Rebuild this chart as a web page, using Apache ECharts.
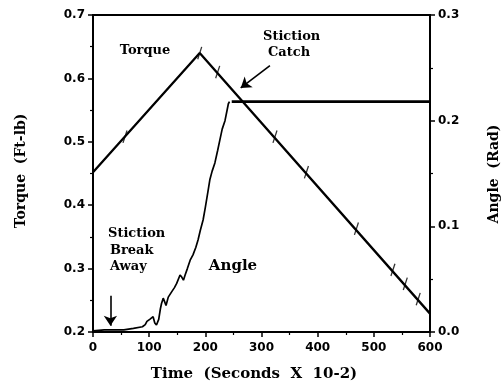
<!DOCTYPE html>
<html>
<head>
<meta charset="utf-8">
<script src="https://cdn.jsdelivr.net/npm/echarts@6/dist/echarts.min.js"></script>
<style>
html,body{margin:0;padding:0;background:#fff;}
#chart{width:501px;height:385px;}
</style>
</head>
<body>
<div id="chart"></div>
<script>
// ---- data ----
const torqueTime  = [0, 190, 600];
const torqueValue = [0.452, 0.640, 0.229];

const angleTime  = [0, 20, 40, 55, 72, 88, 93, 96, 101, 107, 110, 113, 117, 120, 122, 125, 128, 130, 134, 140, 145, 149, 155, 158, 161, 164, 168, 173, 178, 183, 187, 191, 196, 200, 205, 208, 212, 217, 222, 226, 230, 235, 238, 241, 243];
const angleValue = [0.001, 0.002, 0.002, 0.002, 0.0035, 0.005, 0.007, 0.010, 0.012, 0.0145, 0.0085, 0.0066, 0.012, 0.022, 0.027, 0.032, 0.028, 0.025, 0.033, 0.038, 0.042, 0.046, 0.054, 0.052, 0.049, 0.054, 0.060, 0.068, 0.073, 0.080, 0.087, 0.096, 0.106, 0.118, 0.134, 0.144, 0.152, 0.160, 0.172, 0.182, 0.192, 0.200, 0.208, 0.216, 0.218];

const catchTime  = [247, 600];
const catchAngle = [0.218, 0.218];

// hand-drawn tick marks crossing the torque line
const slashTime   = [57, 190, 222, 324, 380, 469, 534, 556, 579];
const slashTorque = [0.508, 0.640, 0.610, 0.508, 0.452, 0.363, 0.298, 0.276, 0.252];

const xTicks = {min: 0, max: 600, interval: 100};
const torqueTicks = {min: 0.2, max: 0.7, interval: 0.1};
const angleTicks = {min: 0.0, max: 0.3, interval: 0.1};

// annotation arrows (data units)
const catchArrow = [[315, 0.620], [263, 0.585]];
const breakArrow = [[31, 0.257], [31, 0.210]];

const zip = (a, b) => a.map((v, i) => [v, b[i]]);

const tickFont = {fontFamily: 'DejaVu Sans', fontWeight: 'bold', fontSize: 12, color: '#000'};
const axisCommon = {
  axisLine: {show: true, lineStyle: {color: '#000', width: 2}},
  axisTick: {show: true, length: 5, lineStyle: {color: '#000', width: 1.5}},
  minorTick: {show: true, splitNumber: 2, length: 3, lineStyle: {color: '#000', width: 1.2}},
  splitLine: {show: false},
  minorSplitLine: {show: false}
};

const chart = echarts.init(document.getElementById('chart'), null, {renderer: 'canvas'});
const serif = '"DejaVu Serif", serif';

chart.setOption({
  animation: false,
  backgroundColor: '#fff',
  grid: {left: 93, right: 71, top: 15, bottom: 53, show: true, borderColor: '#000', borderWidth: 2, backgroundColor: 'transparent'},
  xAxis: Object.assign({
    type: 'value', min: xTicks.min, max: xTicks.max, interval: xTicks.interval,
    axisLabel: Object.assign({margin: 10}, tickFont)
  }, axisCommon),
  yAxis: [
    Object.assign({
      type: 'value', position: 'left', min: torqueTicks.min, max: torqueTicks.max, interval: torqueTicks.interval,
      axisLabel: Object.assign({margin: 8, formatter: v => v.toFixed(1)}, tickFont)
    }, axisCommon),
    Object.assign({
      type: 'value', position: 'right', min: angleTicks.min, max: angleTicks.max, interval: angleTicks.interval,
      axisLabel: Object.assign({margin: 8, formatter: v => v.toFixed(1)}, tickFont)
    }, axisCommon)
  ],
  series: [
    {
      name: 'Torque', type: 'line', yAxisIndex: 0, data: zip(torqueTime, torqueValue),
      symbol: 'none', lineStyle: {color: '#000', width: 2.3}, z: 3,
      markLine: {
        silent: true, symbol: ['none', 'arrow'], symbolSize: 10, precision: 4,
        lineStyle: {color: '#000', width: 1.6, type: 'solid'},
        label: {show: false},
        emphasis: {disabled: true},
        data: [
          [{coord: catchArrow[0]}, {coord: catchArrow[1]}],
          [{coord: breakArrow[0]}, {coord: breakArrow[1]}]
        ]
      }
    },
    {
      name: 'Angle', type: 'line', yAxisIndex: 1, data: zip(angleTime, angleValue),
      symbol: 'none', lineStyle: {color: '#000', width: 1.7}, z: 3
    },
    {
      name: 'Catch', type: 'line', yAxisIndex: 1, data: zip(catchTime, catchAngle),
      symbol: 'none', lineStyle: {color: '#000', width: 2.6}, z: 3
    },
    {
      name: 'Marks', type: 'scatter', yAxisIndex: 0, data: zip(slashTime, slashTorque),
      symbol: 'rect', symbolSize: [1.3, 13], symbolRotate: -18,
      itemStyle: {color: '#000'}, z: 4, silent: true
    }
  ],
  graphic: [
    {type: 'text', x: 145, y: 51, style: {text: 'Torque', font: 'bold 13px ' + serif, fill: '#000', textAlign: 'center', textVerticalAlign: 'middle', align: 'center', verticalAlign: 'middle'}},
    {type: 'text', x: 263, y: 37, style: {text: 'Stiction', font: 'bold 13px ' + serif, fill: '#000', textAlign: 'left', textVerticalAlign: 'middle', align: 'left', verticalAlign: 'middle'}},
    {type: 'text', x: 268, y: 53, style: {text: 'Catch', font: 'bold 13px ' + serif, fill: '#000', textAlign: 'left', textVerticalAlign: 'middle', align: 'left', verticalAlign: 'middle'}},
    {type: 'text', x: 108, y: 234, style: {text: 'Stiction', font: 'bold 13px ' + serif, fill: '#000', textAlign: 'left', textVerticalAlign: 'middle', align: 'left', verticalAlign: 'middle'}},
    {type: 'text', x: 110, y: 251, style: {text: 'Break', font: 'bold 13px ' + serif, fill: '#000', textAlign: 'left', textVerticalAlign: 'middle', align: 'left', verticalAlign: 'middle'}},
    {type: 'text', x: 110, y: 267, style: {text: 'Away', font: 'bold 13px ' + serif, fill: '#000', textAlign: 'left', textVerticalAlign: 'middle', align: 'left', verticalAlign: 'middle'}},
    {type: 'text', x: 233, y: 266, style: {text: 'Angle', font: 'bold 15px ' + serif, fill: '#000', textAlign: 'center', textVerticalAlign: 'middle', align: 'center', verticalAlign: 'middle'}},
    {type: 'text', x: 254, y: 374, style: {text: 'Time  (Seconds  X  10-2)', font: 'bold 15px ' + serif, fill: '#000', textAlign: 'center', textVerticalAlign: 'middle', align: 'center', verticalAlign: 'middle'}},
    {type: 'text', x: 21, y: 171, rotation: Math.PI / 2, style: {text: 'Torque  (Ft-lb)', font: 'bold 14px ' + serif, fill: '#000', textAlign: 'center', textVerticalAlign: 'middle', align: 'center', verticalAlign: 'middle'}},
    {type: 'text', x: 494, y: 174, rotation: Math.PI / 2, style: {text: 'Angle  (Rad)', font: 'bold 14px ' + serif, fill: '#000', textAlign: 'center', textVerticalAlign: 'middle', align: 'center', verticalAlign: 'middle'}}
  ]
});
</script>
</body>
</html>
